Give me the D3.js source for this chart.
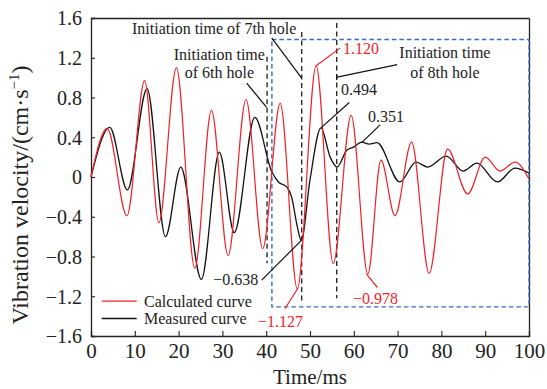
<!DOCTYPE html>
<html>
<head>
<meta charset="utf-8">
<script src="https://cdn.jsdelivr.net/npm/d3@7"></script>
<style>
  html, body { margin: 0; padding: 0; background: #fff; }
  svg { display: block; }
</style>
</head>
<body>
<svg id="chart" width="547" height="389"></svg>
<script>
// ---- data ----
const xTicks = [0, 10, 20, 30, 40, 50, 60, 70, 80, 90, 100];
const yTicks = [1.6, 1.2, 0.8, 0.4, 0, -0.4, -0.8, -1.2, -1.6];

// Calculated curve (red): time (ms) and velocity (cm/s)
const calcTime = [0, 3.7, 8.2, 12.25, 15.5, 19.5, 23.7, 27.5, 31.3, 35.4, 39.2, 43.2, 47.1, 51.4, 55.3, 59.4, 63.2, 66.2, 69.4, 73.2, 77.2, 81.4, 86.0, 90.0, 93.4, 96.8, 100];
const calcVel  = [0, 0.49, -0.39, 0.97, -0.46, 1.10, -0.92, 0.67, -0.79, 0.78, -0.72, 0.74, -1.127, 1.120, -0.87, 0.62, -0.978, 0.17, -0.39, 0.35, -0.97, 0.28, -0.17, 0.20, 0.06, 0.15, -0.02];

// Measured curve (black)
const measTime = [0, 4.3, 8.3, 12.8, 17.0, 20.5, 25.2, 29.3, 32.7, 37.4, 41.3, 42.8, 44.7, 45.8, 47.1, 48.0, 50.0, 52.5, 54.6, 56.2, 58.4, 59.9, 61.8, 63.5, 65.3, 70.5, 74.2, 76.9, 81.1, 85.0, 88.1, 92.8, 96.8, 100];
const measVel  = [0, 0.50, -0.13, 0.89, -0.60, 0.10, -1.03, 0.25, -0.56, 0.60, 0.05, -0.05, -0.10, -0.20, -0.50, -0.638, -0.03, 0.494, 0.20, 0.10, 0.27, 0.30, 0.351, 0.33, 0.345, -0.05, 0.15, 0.10, 0.21, 0.06, 0.14, -0.05, 0.09, 0.04];

// Initiation times of holes 6, 7, 8 (ms)
const holeNames = ["6th", "7th", "8th"];
const holeTimes = [40.2, 48.1, 56.1];

// Highlight region (blue dashed box), in data units
const boxTime = [41.3, 100];
const boxVel  = [-1.307, 1.383];

// ---- layout ----
const FONT = "'Liberation Serif', 'Times New Roman', serif";
const svg = d3.select("#chart");
const x = d3.scaleLinear().domain([0, 100]).range([91, 529]);
const y = d3.scaleLinear().domain([-1.6, 1.6]).range([336, 18]);

const RED = "#f0232a", BLUE = "#3a6cc4", DASHBLK = "#2a2a2a";

const fmt = d => d === 0 ? "0" : d3.format(".1f")(d).replace("-", "\u2212");

// axes (inward ticks)
const gx = svg.append("g").attr("transform", `translate(0,${y(-1.6)})`)
  .call(d3.axisBottom(x).tickValues(xTicks).tickSize(-5).tickPadding(10).tickFormat(d3.format("d")));
const gy = svg.append("g").attr("transform", `translate(${x(0)},0)`)
  .call(d3.axisLeft(y).tickValues(yTicks).tickSize(-4).tickPadding(9).tickFormat(fmt));
svg.append("g").attr("transform", `translate(0,${y(1.6)})`)
  .call(d3.axisTop(x).tickValues([]).tickSizeOuter(0));
svg.append("g").attr("transform", `translate(${x(100)},0)`)
  .call(d3.axisRight(y).tickValues([]).tickSizeOuter(0));

svg.selectAll(".domain").attr("stroke", "#222").attr("stroke-width", 1.3);
svg.selectAll(".tick line").attr("stroke", "#222").attr("stroke-width", 1.1);
gx.selectAll(".tick text").attr("font-size", 21).attr("fill", "#222").attr("dy", "0.55em");
gy.selectAll(".tick text").attr("font-size", 20).attr("fill", "#222").attr("dy", "0.34em");

// axis titles
svg.append("text").attr("x", (x(0) + x(100)) / 2).attr("y", 384)
  .attr("text-anchor", "middle").attr("font-size", 21).attr("fill", "#222").text("Time/ms");
const yt = svg.append("text").attr("transform", `translate(28,${(y(1.6) + y(-1.6)) / 2 + 18}) rotate(-90)`)
  .attr("text-anchor", "middle").attr("font-size", 24).attr("fill", "#222");
yt.append("tspan").text("Vibration velocity/(cm\u00b7s");
yt.append("tspan").attr("font-size", 15).attr("dy", -9).text("\u22121");
yt.append("tspan").attr("dy", 9).text(")");

// blue dashed box
svg.append("rect")
  .attr("x", x(boxTime[0])).attr("y", y(boxVel[1]))
  .attr("width", x(boxTime[1]) - x(boxTime[0])).attr("height", y(boxVel[0]) - y(boxVel[1]))
  .attr("fill", "none").attr("stroke", BLUE).attr("stroke-width", 1.4).attr("stroke-dasharray", "4.5,3");

// vertical hole dashed lines (top/bottom extents in data units)
const holeTop = [1.21, 1.46, 1.55];
const holeBot = [-0.867, -1.27, -1.22];
svg.selectAll(".hole").data(holeTimes).enter().append("line")
  .attr("x1", d => x(d)).attr("x2", d => x(d))
  .attr("y1", (d, i) => y(holeTop[i])).attr("y2", (d, i) => y(holeBot[i]))
  .attr("stroke", DASHBLK).attr("stroke-width", 1.4).attr("stroke-dasharray", "5,3.5");

// curves
const line = d3.line().x(d => x(d[0])).y(d => y(d[1])).curve(d3.curveMonotoneX);
const calc = calcTime.map((t, i) => [t, calcVel[i]]);
const meas = measTime.map((t, i) => [t, measVel[i]]);
svg.append("path").attr("d", line(meas)).attr("fill", "none").attr("stroke", "#111").attr("stroke-width", 1.3);
svg.append("path").attr("d", line(calc)).attr("fill", "none").attr("stroke", RED).attr("stroke-width", 1.2);

// annotations (leaders & labels, data units)
const leaders = [
  { p: [[41.26, 1.40], [48.1, 0.995]], c: "#111" },
  { p: [[35.55, 0.945], [40.1, 0.70]], c: "#111" },
  { p: [[56.2, 1.005], [69.9, 1.13]], c: "#111" },
  { p: [[51.4, 1.12], [56.85, 1.297]], c: RED },
  { p: [[52.5, 0.494], [58.97, 0.749]], c: "#111" },
  { p: [[61.8, 0.346], [66.0, 0.524]], c: "#111" },
  { p: [[48.1, -0.635], [38.97, -1.038]], c: "#111" },
  { p: [[47.2, -1.122], [44.3, -1.323]], c: RED },
  { p: [[62.9, -0.978], [65.4, -1.112]], c: RED }
];
leaders.forEach(l => {
  svg.append("line")
    .attr("x1", x(l.p[0][0])).attr("y1", y(l.p[0][1]))
    .attr("x2", x(l.p[1][0])).attr("y2", y(l.p[1][1]))
    .attr("stroke", l.c).attr("stroke-width", 1.2);
});
// small tick at the 8th-hole leader
svg.append("line").attr("x1", x(56.1)).attr("x2", x(56.1)).attr("y1", y(1.035)).attr("y2", y(0.975))
  .attr("stroke", "#111").attr("stroke-width", 1.2);

const labels = [
  { t: "1.120", at: [57.53, 1.237], a: "start", c: RED },
  { t: "0.494", at: [57.08, 0.824], a: "start", c: "#222" },
  { t: "0.351", at: [63.24, 0.554], a: "start", c: "#222" },
  { t: "\u22120.638", at: [38.2, -1.085], a: "end", c: "#222" },
  { t: "\u22121.127", at: [38.13, -1.505], a: "start", c: RED },
  { t: "\u22120.978", at: [59.82, -1.283], a: "start", c: RED },
  { t: "Initiation time of 7th hole", at: [9.36, 1.435], a: "start", c: "#222" },
  { t: "Initiation time", at: [29.3, 1.176], a: "middle", c: "#222" },
  { t: "of 6th hole", at: [29.3, 0.992], a: "middle", c: "#222" },
  { t: "Initiation time", at: [80.8, 1.194], a: "middle", c: "#222" },
  { t: "of 8th hole", at: [80.8, 0.998], a: "middle", c: "#222" }
];
labels.forEach(l => {
  svg.append("text").attr("x", x(l.at[0])).attr("y", y(l.at[1]))
    .attr("text-anchor", l.a).attr("font-size", 16).attr("fill", l.c).text(l.t);
});

// legend
const legendNames = ["Calculated curve", "Measured curve"];
const legendColors = [RED, "#111"];
const legendVel = [-1.25, -1.424];
legendNames.forEach((n, i) => {
  svg.append("line").attr("x1", x(2.44)).attr("x2", x(10.43))
    .attr("y1", y(legendVel[i])).attr("y2", y(legendVel[i]))
    .attr("stroke", legendColors[i]).attr("stroke-width", 1.3);
  svg.append("text").attr("x", x(12.1)).attr("y", y(legendVel[i]) + 5.3)
    .attr("font-size", 16).attr("fill", "#222").text(n);
});

// serif family on every text
svg.selectAll("text").style("font-family", FONT, "important");
</script>
</body>
</html>
